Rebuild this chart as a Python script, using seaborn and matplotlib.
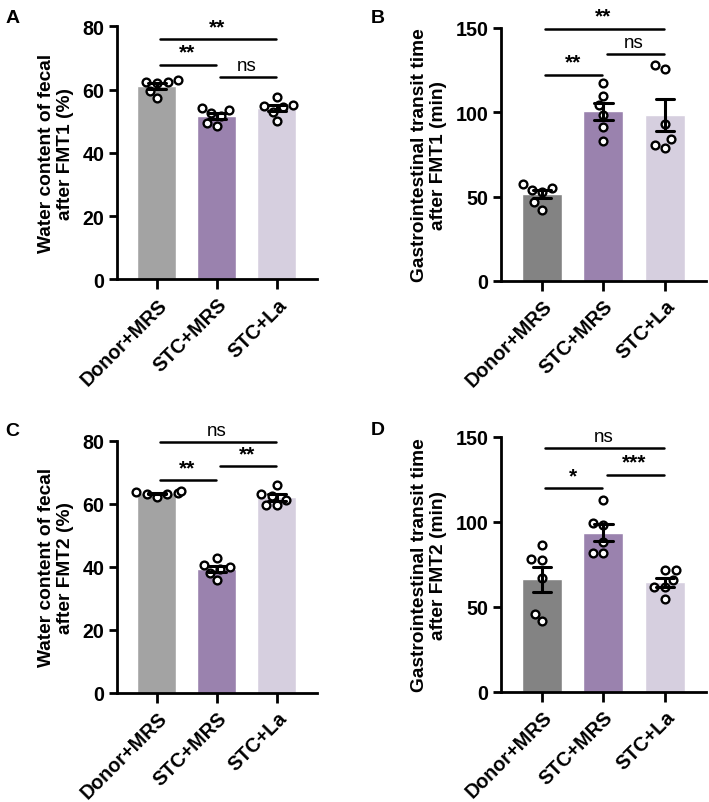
import numpy as np
import pandas as pd
import seaborn as sns
import matplotlib.pyplot as plt

groups = ['Donor+MRS', 'STC+MRS', 'STC+La']

# panel A: water content after FMT1 (%)
a_donor = [62.5, 62.2, 62.5, 63.0, 59.5, 57.2]
a_stc = [54.2, 53.5, 51.5, 49.5, 48.5, 52.5]
a_la = [55.0, 54.5, 57.6, 54.8, 53.0, 50.0]

# panel B: GI transit time after FMT1 (min)
b_donor = [55.0, 57.4, 52.5, 54.0, 46.5, 42.3]
b_stc = [117.5, 109.6, 104.0, 98.5, 91.0, 83.2]
b_la = [125.8, 127.8, 93.0, 84.0, 80.5, 79.0]

# panel C: water content after FMT2 (%)
c_donor = [63.8, 63.2, 63.5, 64.0, 63.0, 62.2]
c_stc = [42.7, 40.7, 39.9, 39.2, 38.1, 35.7]
c_la = [66.0, 63.1, 62.4, 61.3, 59.6, 59.6]

# panel D: GI transit time after FMT2 (min)
d_donor = [86.3, 78.4, 77.5, 66.7, 46.1, 41.6]
d_stc = [112.7, 99.0, 98.0, 88.0, 81.4, 81.4]
d_la = [71.6, 71.6, 65.7, 61.8, 61.8, 54.5]

# significance brackets: (group i, group j, height, label)
a_sig = [(0, 1, 67.9, '**'), (1, 2, 64.0, 'ns'), (0, 2, 76.0, '**')]
b_sig = [(0, 1, 122.3, '**'), (1, 2, 134.3, 'ns'), (0, 2, 149.6, '**')]
c_sig = [(0, 1, 67.5, '**'), (1, 2, 71.8, '**'), (0, 2, 79.7, 'ns')]
d_sig = [(0, 1, 119.6, '*'), (1, 2, 127.5, '***'), (0, 2, 143.5, 'ns')]

purple = '#9a7bb5'
lavender = '#d6cce2'

sns.set_style('ticks')
plt.rcParams['font.family'] = ['Liberation Sans', 'DejaVu Sans']
plt.rcParams['font.weight'] = 'bold'
for k in ['text.color', 'axes.labelcolor', 'xtick.color', 'ytick.color', 'axes.edgecolor']:
    plt.rcParams[k] = 'black'

fig = plt.figure(figsize=(7.09, 8.03), dpi=100)

panels = [
    ('A', [a_donor, a_stc, a_la], a_sig, 'Water content of fecal\nafter FMT1 (%)', 80, 20,
     ['#a3a3a3', purple, lavender], [0.165, 0.651, 0.282, 0.315]),
    ('B', [b_donor, b_stc, b_la], b_sig, 'Gastrointestinal transit time\nafter FMT1 (min)', 150, 50,
     ['#838383', purple, lavender], [0.7066, 0.649, 0.289, 0.315]),
    ('C', [c_donor, c_stc, c_la], c_sig, 'Water content of fecal\nafter FMT2 (%)', 80, 20,
     ['#a3a3a3', purple, lavender], [0.165, 0.136, 0.282, 0.314]),
    ('D', [d_donor, d_stc, d_la], d_sig, 'Gastrointestinal transit time\nafter FMT2 (min)', 150, 50,
     ['#838383', purple, lavender], [0.7066, 0.137, 0.289, 0.318]),
]

letter_pos = {'A': (0.008, 0.988), 'B': (0.523, 0.988), 'C': (0.008, 0.473), 'D': (0.523, 0.475)}

for letter, vals, sigs, ylab, ymax, ystep, cols, rect in panels:
    ax = fig.add_axes(rect)
    df = pd.DataFrame({
        'group': np.repeat(groups, [len(v) for v in vals]),
        'value': np.concatenate(vals),
    })
    sns.barplot(data=df, x='group', y='value', hue='group', order=groups,
                palette=cols, width=0.65, errorbar='se', capsize=0.3,
                err_kws={'linewidth': 2.2, 'color': 'black', 'zorder': 10},
                legend=False, ax=ax)
    sns.swarmplot(data=df, x='group', y='value', order=groups, color='white',
                  edgecolor='black', linewidth=1.7, size=5.6, ax=ax, zorder=5)
    ax.set_xlim(-0.667, 2.667)
    ax.set_ylim(0, ymax)
    ax.set_yticks(np.arange(0, ymax + 1, ystep))
    ax.set_xlabel('')
    ax.set_ylabel(ylab, fontsize=13.8, fontweight='bold', labelpad=6, linespacing=1.15)
    ax.set_xticks(range(3))
    ax.set_xticklabels(groups, rotation=45, ha='right', rotation_mode='anchor',
                       fontsize=14.2, fontweight='bold')
    ax.tick_params(axis='y', labelsize=14.2, width=2, length=6, pad=3)
    ax.tick_params(axis='x', width=2, length=7, pad=4)
    for s in ['left', 'bottom']:
        ax.spines[s].set_linewidth(2)
    sns.despine(ax=ax)
    for i, j, h, lab in sigs:
        ax.plot([i + 0.05, j - 0.02], [h, h], color='black', lw=1.8, clip_on=False)
        ax.text((i + j) / 2, h + ymax * 0.012, lab, ha='center', va='bottom',
                fontsize=13.5 if lab == 'ns' else 15, fontweight='normal' if lab == 'ns' else 'bold')
    fig.text(*letter_pos[letter], letter, fontsize=14, fontweight='bold', va='top', ha='left')

fig.savefig('out.png', dpi=100)
